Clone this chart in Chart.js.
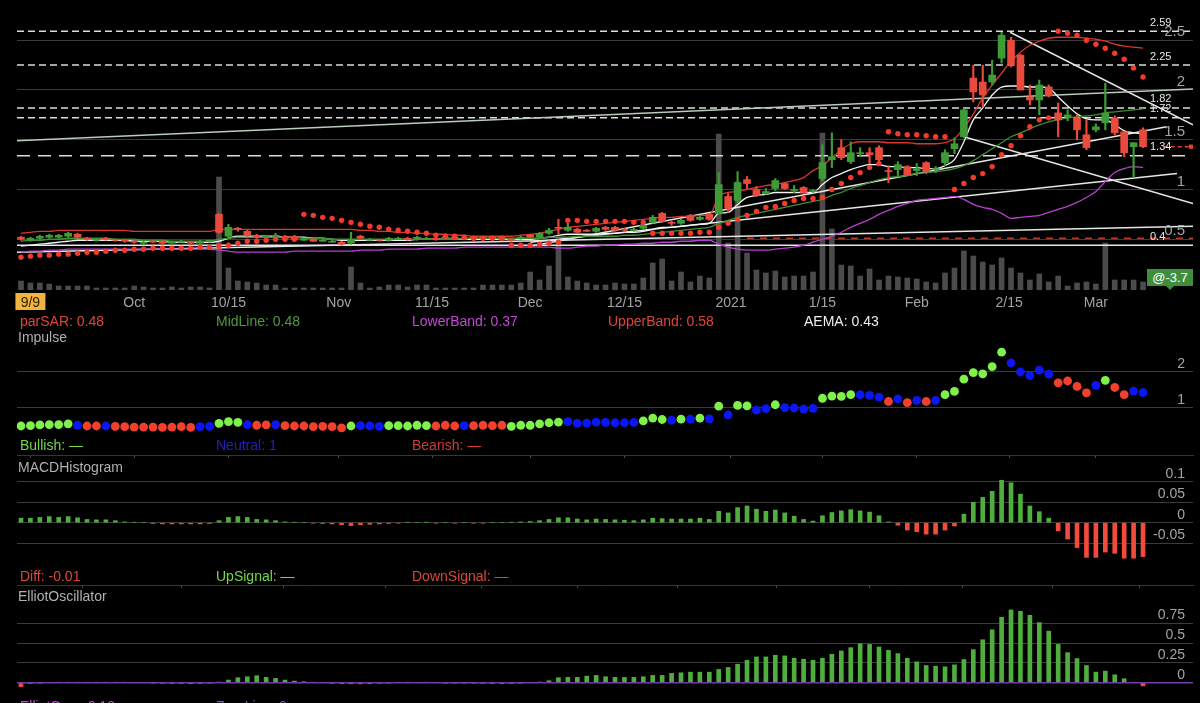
<!DOCTYPE html>
<html><head><meta charset="utf-8">
<script src="https://cdn.jsdelivr.net/npm/chart.js@4.4.1/dist/chart.umd.min.js"></script>
<style>
html,body{margin:0;padding:0;background:#000;overflow:hidden}
#wrap{position:relative;width:1200px;height:703px;background:#000;overflow:hidden;font-family:"Liberation Sans",Arial,sans-serif}
canvas{position:absolute;left:0}
.t{position:absolute;font-size:14px;line-height:16px;white-space:nowrap}
#tag{position:absolute;left:1147px;top:269px;width:46px;height:17px;background:#3e8e3e;color:#fff;font-size:13px;line-height:17px;text-align:center}
#tag:after{content:"";position:absolute;left:19px;top:17px;border-left:4px solid transparent;border-right:4px solid transparent;border-top:4px solid #3e8e3e}
</style></head><body><div id="wrap">
<canvas id="cMain" width="1200" height="315" style="top:0px"></canvas>
<canvas id="cImp" width="1200" height="118" style="top:340px"></canvas>
<canvas id="cMacd" width="1200" height="132" style="top:456px"></canvas>
<canvas id="cEll" width="1200" height="115" style="top:588px"></canvas>
<div id="tag">@-3.7</div>
<div class="t" style="left:20px;top:313px;color:#e0453a">parSAR: 0.48</div>
<div class="t" style="left:216px;top:313px;color:#4e9a3e">MidLine: 0.48</div>
<div class="t" style="left:412px;top:313px;color:#c447d6">LowerBand: 0.37</div>
<div class="t" style="left:608px;top:313px;color:#e0453a">UpperBand: 0.58</div>
<div class="t" style="left:804px;top:313px;color:#eeeeee">AEMA: 0.43</div>
<div class="t" style="left:18px;top:329px;color:#b0b0b0">Impulse</div>
<div class="t" style="left:20px;top:437px;color:#72d84a">Bullish: —</div>
<div class="t" style="left:216px;top:437px;color:#2020b8">Neutral: 1</div>
<div class="t" style="left:412px;top:437px;color:#d03c32">Bearish: —</div>
<div class="t" style="left:18px;top:459px;color:#b0b0b0">MACDHistogram</div>
<div class="t" style="left:20px;top:568px;color:#d9463b">Diff: -0.01</div>
<div class="t" style="left:216px;top:568px;color:#74d84a">UpSignal: —</div>
<div class="t" style="left:412px;top:568px;color:#d9463b">DownSignal: —</div>
<div class="t" style="left:18px;top:588px;color:#b0b0b0">ElliotOscillator</div>
<div class="t" style="left:20px;top:698px;color:#c447d6">ElliotOsc: -0.10</div>
<div class="t" style="left:216px;top:698px;color:#8a4fc0">ZeroLine: 0</div>
</div>
<script>
const FONT = '"Liberation Sans", Arial, sans-serif';
const X_MIN = -0.424, X_MAX = 124.3;

// x axis tick labels (trading-day index positions)
const xTickLabels = ['9/9','Oct','10/15','Nov','11/15','Dec','12/15','2021','1/15','Feb','2/15','Mar'];
const xTickIdx = [1.0, 12, 22, 33.7, 43.6, 54, 64, 75.3, 85, 95, 104.8, 114];

// price panel
const priceTicks = [0.5, 1, 1.5, 2, 2.5];
const priceTickLabels = ['0.5','1','1.5','2','2.5'];
const levels = [2.59, 2.25, 1.82, 1.72, 1.34];
const levelLabels = ['2.59','2.25','1.82','1.72','1.34'];
const redLevel = 0.51, redLevelLabel = '0.4', redLevelStart = 77;

const open = [
.52,.49,.51,.52,.52,.53,.55,.51,.49,.51,
.50,.49,.48,.46,.48,.48,.47,.48,.47,.46,
.48,.75,.53,.61,.58,.54,.53,.52,.53,.53,
.50,.50,.49,.48,.47,.46,.53,.50,.50,.49,
.51,.51,.50,.51,.51,.51,.52,.51,.52,.51,
.52,.50,.50,.51,.54,.52,.56,.62,.59,.60,
.59,.58,.62,.62,.60,.59,.61,.67,.76,.67,
.66,.74,.70,.75,.76,.93,.89,1.10,1.00,.96,
1.01,1.06,1.00,1.02,.99,1.11,1.30,1.42,1.28,1.36,
1.37,1.42,1.19,1.20,1.23,1.19,1.27,1.20,1.27,1.41,
1.53,2.12,2.08,2.08,2.32,2.50,2.35,1.93,1.90,2.03,
1.77,1.73,1.72,1.55,1.60,1.67,1.72,1.58,1.43,1.60];
const high = [
.53,.52,.54,.55,.55,.57,.56,.52,.51,.52,
.50,.50,.49,.48,.49,.49,.48,.49,.48,.49,
.49,.76,.65,.62,.59,.55,.54,.56,.54,.54,
.51,.51,.50,.49,.48,.57,.54,.51,.50,.52,
.52,.52,.53,.52,.52,.53,.53,.52,.53,.53,
.52,.53,.51,.53,.55,.57,.61,.70,.66,.61,
.60,.62,.63,.63,.61,.61,.65,.74,.77,.68,
.70,.75,.73,.76,1.17,.96,1.18,1.13,1.03,1.01,
1.11,1.07,1.04,1.03,1.00,1.45,1.57,1.50,1.48,1.42,
1.42,1.44,1.24,1.28,1.24,1.26,1.28,1.23,1.40,1.52,
1.81,2.25,2.25,2.30,2.58,2.53,2.36,2.05,2.10,2.05,
1.87,1.80,1.75,1.70,1.66,2.07,1.74,1.58,1.47,1.62];
const low = [
.49,.48,.50,.51,.51,.52,.51,.49,.48,.49,
.48,.47,.46,.45,.47,.45,.46,.47,.45,.45,
.47,.56,.52,.58,.53,.51,.52,.51,.51,.49,
.49,.48,.48,.47,.44,.45,.51,.49,.48,.48,
.50,.49,.49,.50,.49,.50,.50,.50,.50,.51,
.50,.49,.48,.50,.52,.51,.55,.55,.58,.56,
.58,.57,.59,.58,.58,.58,.60,.66,.67,.64,
.65,.68,.69,.69,.75,.77,.87,1.01,.93,.95,
.99,1.00,.97,.96,.97,1.09,1.22,1.30,1.26,1.33,
1.26,1.24,1.07,1.14,1.14,1.14,1.16,1.17,1.24,1.36,
1.52,1.88,1.83,2.05,2.27,2.23,2.00,1.85,1.75,1.93,
1.53,1.69,1.50,1.40,1.58,1.60,1.55,1.33,1.12,1.42];
const close = [
.50,.51,.53,.54,.54,.56,.52,.50,.50,.50,
.49,.48,.47,.47,.47,.46,.47,.48,.46,.48,
.49,.57,.62,.60,.54,.52,.53,.54,.51,.50,
.50,.48,.49,.48,.45,.50,.51,.50,.49,.51,
.51,.50,.52,.51,.50,.52,.50,.51,.51,.52,
.51,.52,.49,.52,.52,.56,.59,.61,.62,.57,
.58,.61,.60,.59,.59,.60,.64,.72,.68,.66,
.69,.69,.72,.70,1.05,.81,1.07,1.06,.94,.98,
1.09,1.01,1.00,.97,.99,1.27,1.33,1.32,1.37,1.37,
1.35,1.30,1.18,1.25,1.15,1.21,1.18,1.21,1.37,1.46,
1.80,1.98,1.95,2.15,2.55,2.25,2.00,1.90,2.05,1.94,
1.70,1.75,1.60,1.42,1.63,1.77,1.57,1.37,1.47,1.43];
const volume = [
0.9,0.7,0.7,0.6,0.4,0.4,0.4,0.4,0.2,0.2,
0.2,0.2,0.4,0.3,0.2,0.2,0.3,0.2,0.3,0.3,
0.2,11.3,2.2,0.9,0.8,0.7,0.5,0.5,0.2,0.2,
0.2,0.2,0.2,0.2,0.2,2.3,0.7,0.2,0.3,0.5,
0.5,0.3,0.5,0.5,0.2,0.2,0.2,0.2,0.2,0.5,
0.5,0.5,0.5,0.7,1.8,1.0,2.4,5.0,1.3,0.9,
0.7,0.5,0.5,0.7,0.6,0.6,1.2,2.7,3.1,0.9,
1.8,0.8,1.4,1.2,15.6,4.7,10.8,3.7,2.0,1.7,
1.9,1.3,1.4,1.4,1.8,15.7,6.1,2.5,2.4,1.4,
2.1,1.0,1.4,1.3,1.2,1.1,0.8,0.7,1.7,2.2,
3.9,3.4,2.8,2.5,3.2,2.2,1.7,1.0,1.6,0.8,
1.4,0.4,0.7,0.8,0.6,4.7,1.0,1.0,1.0,0.8];
const parSAR = [
.32,.33,.34,.34,.35,.35,.36,.37,.37,.38,
.39,.39,.40,.40,.41,.41,.41,.41,.41,.42,
.42,.43,.44,.46,.48,.48,.49,.50,.50,.50,
.75,.74,.72,.71,.69,.67,.65,.63,.62,.60,
.59,.58,.57,.56,.54,.53,.53,.52,.51,.51,
.51,.51,.44,.44,.44,.45,.46,.47,.69,.69,
.68,.68,.68,.68,.68,.67,.67,.56,.56,.56,
.56,.56,.57,.57,.62,.66,.70,.74,.78,.82,
.83,.86,.89,.91,.91,.92,1.00,1.06,1.12,1.17,
1.22,1.26,1.58,1.56,1.55,1.55,1.54,1.53,1.53,1.00,
1.06,1.12,1.16,1.23,1.35,1.44,1.54,1.63,1.70,1.72,
2.59,2.57,2.55,2.50,2.46,2.42,2.37,2.31,2.22,2.13];
const midLine = [
.48,.49,.49,.50,.50,.51,.51,.51,.51,.51,
.50,.50,.50,.49,.49,.49,.48,.48,.48,.48,
.48,.50,.51,.52,.52,.52,.52,.52,.52,.52,
.51,.51,.51,.50,.50,.50,.50,.50,.50,.50,
.50,.50,.50,.50,.50,.50,.50,.51,.51,.51,
.51,.51,.51,.51,.51,.51,.52,.52,.52,.53,
.53,.53,.53,.53,.54,.54,.55,.56,.57,.58,
.59,.60,.61,.62,.66,.69,.72,.74,.76,.78,
.80,.82,.84,.86,.88,.90,.94,.97,1.01,1.04,
1.07,1.10,1.12,1.13,1.14,1.16,1.17,1.18,1.19,1.21,
1.24,1.29,1.35,1.41,1.47,1.53,1.57,1.61,1.65,1.68,
1.70,1.72,1.73,1.74,1.75,1.77,1.78,1.79,1.80,1.81];
const aema = [
.43,.44,.45,.46,.47,.48,.49,.49,.49,.49,
.49,.49,.48,.48,.48,.48,.47,.47,.47,.47,
.47,.48,.51,.53,.53,.53,.53,.53,.52,.52,
.52,.51,.51,.50,.49,.49,.49,.49,.49,.49,
.49,.49,.50,.50,.50,.50,.50,.50,.50,.50,
.50,.50,.50,.50,.50,.51,.52,.54,.55,.55,
.55,.55,.56,.56,.57,.57,.58,.60,.62,.62,
.63,.64,.65,.66,.76,.77,.85,.92,.94,.95,
.97,.97,.97,.97,.97,1.05,1.12,1.16,1.20,1.23,
1.25,1.25,1.23,1.23,1.22,1.22,1.21,1.21,1.24,1.30,
1.48,1.70,1.82,1.95,2.03,2.04,2.04,2.03,2.03,2.02,
1.93,1.84,1.76,1.71,1.70,1.70,1.65,1.59,1.57,1.56];
const upperBand = [
.56,.57,.58,.58,.59,.59,.59,.59,.59,.59,
.59,.59,.58,.58,.58,.58,.58,.58,.58,.58,
.58,.60,.60,.60,.60,.60,.60,.60,.60,.60,
.60,.60,.60,.60,.60,.60,.59,.59,.58,.58,
.57,.57,.56,.56,.55,.55,.54,.54,.53,.53,
.53,.53,.53,.54,.55,.56,.58,.60,.62,.63,
.64,.65,.66,.67,.68,.69,.70,.71,.72,.72,
.73,.73,.74,.74,.93,.97,.98,1.00,1.02,1.04,
1.05,1.07,1.09,1.12,1.19,1.24,1.32,1.40,1.46,1.48,
1.48,1.48,1.47,1.47,1.47,1.46,1.46,1.46,1.47,1.51,
1.62,1.76,1.92,2.05,2.17,2.29,2.38,2.45,2.49,2.52,
2.53,2.53,2.53,2.52,2.51,2.49,2.46,2.44,2.43,2.42];
const lowerBand = [
.37,.38,.38,.39,.39,.40,.40,.40,.40,.40,
.40,.40,.40,.40,.40,.40,.40,.40,.40,.40,
.40,.39,.38,.37,.37,.37,.37,.37,.37,.38,
.38,.38,.38,.38,.38,.38,.39,.39,.39,.40,
.40,.40,.40,.41,.41,.41,.41,.42,.42,.42,
.42,.42,.42,.42,.42,.42,.42,.41,.41,.42,
.43,.43,.44,.44,.45,.45,.46,.46,.47,.47,
.48,.48,.49,.49,.45,.42,.40,.39,.39,.39,
.40,.41,.42,.44,.47,.50,.53,.57,.62,.66,
.70,.75,.79,.83,.86,.89,.90,.91,.92,.93,
.90,.85,.82,.80,.76,.71,.72,.73,.74,.77,
.80,.83,.87,.92,.98,1.08,1.17,1.21,1.23,1.22];
// trend lines: [startIdx, startPrice, endIdx, endPrice]
const trendGreen = [-0.424, 1.49, 124.3, 2.01];
const trendLines = [
  [104.9, 2.58, 124.3, 1.65],
  [100, 1.53, 124.3, 0.86],
  [54, 0.43, 121.5, 1.63],
  [54, 0.47, 122.6, 1.16],
  [-0.424, 0.37, 124.3, 0.63],
  [-0.424, 0.44, 124.3, 0.44]
];

// impulse colours (g bullish, b neutral, r bearish)
const impulse = ('gggggg'+'b'+'rr'+'b'+'rrrrrrrrr'+'bb'+'ggg'+'b'+'rr'+'b'+'rrrrrrr'+'g'+'bbb'+'ggggg'+'rrr'+'b'+'rrrr'+
  'gggggg'+'bbbbbbbb'+'ggg'+'b'+'g'+'b'+'g'+'b'+'g'+'b'+'gg'+'bb'+'g'+'bbbb'+'gggg'+'bbb'+'r'+'b'+'r'+'b'+'r'+'b'+
  'ggggggg'+'bbbbb'+'rrrr'+'b'+'g'+'rr'+'bb').split('');
const impTicks = [1, 2], impTickLabels = ['1','2'];

const macd = [
0.011,0.011,0.013,0.015,0.013,0.015,0.012,0.008,0.007,0.007,
0.005,0.002,0.001,0,-0.002,-0.003,-0.003,-0.003,-0.003,-0.003,
-0.002,0.005,0.013,0.015,0.013,0.008,0.007,0.005,0.002,0.001,
0,-0.001,-0.002,-0.003,-0.005,-0.007,-0.005,-0.004,-0.003,-0.002,
-0.001,0.001,0,0.001,-0.001,0,-0.001,0,-0.001,-0.001,
0,0,0.001,0.002,0.003,0.005,0.008,0.012,0.012,0.009,
0.007,0.009,0.008,0.007,0.006,0.005,0.007,0.011,0.010,0.009,
0.009,0.009,0.011,0.008,0.028,0.024,0.037,0.041,0.033,0.028,
0.031,0.024,0.016,0.008,0.004,0.017,0.025,0.029,0.032,0.029,
0.026,0.017,0.002,-0.006,-0.018,-0.022,-0.028,-0.028,-0.018,-0.008,
0.021,0.050,0.062,0.077,0.104,0.098,0.070,0.041,0.027,0.011,
-0.020,-0.040,-0.061,-0.085,-0.085,-0.072,-0.075,-0.087,-0.087,-0.083];
const macdTicks = [0.1, 0.05, 0, -0.05], macdTickLabels = ['0.1','0.05','0','-0.05'];

const elliot = [
-0.05,-0.01,-0.005,0,0.003,0.005,0.005,0.005,0.005,0.004,
0.003,0.002,0,0,-0.005,-0.008,-0.01,-0.01,-0.012,-0.01,
-0.005,0.008,0.033,0.063,0.075,0.088,0.067,0.054,0.033,0.02,
0.012,0.004,0,-0.008,-0.012,-0.015,-0.015,-0.012,-0.008,-0.004,
0.002,0.001,0,0.001,0,-0.002,-0.003,-0.005,-0.006,-0.008,
-0.01,-0.012,-0.01,-0.005,0,0.008,0.025,0.063,0.067,0.067,
0.083,0.092,0.075,0.067,0.067,0.067,0.075,0.092,0.092,0.117,
0.125,0.133,0.133,0.133,0.167,0.192,0.233,0.283,0.325,0.325,
0.346,0.338,0.308,0.296,0.283,0.308,0.358,0.4,0.442,0.492,
0.483,0.45,0.408,0.367,0.308,0.263,0.217,0.208,0.2,0.225,
0.292,0.417,0.542,0.667,0.825,0.917,0.9,0.85,0.758,0.65,
0.483,0.379,0.304,0.217,0.133,0.146,0.1,0.05,0.004,-0.04];
const zeroLine = 0;
const ellTicks = [0.75, 0.5, 0.25, 0], ellTickLabels = ['0.75','0.5','0.25','0'];

// ---------- styling / helpers ----------
const GREEN = '#3e9b36', RED = '#ea4a3c', GRID = '#3b3b3b';
const IMP_COL = {g:'#7ef24a', b:'#0b16f2', r:'#f2402d'};
const pts = arr => arr.map((v, i) => ({x: i, y: v}));
const seg = (x0, y0, x1, y1) => [{x: x0, y: y0}, {x: x1, y: y1}];
const candleCol = close.map((c, i) => c >= open[i] ? GREEN : RED);

function rightLabels(values, labels, size) {
  return { id: 'rl', afterDatasetsDraw(chart) {
    const {ctx, chartArea} = chart, ys = chart.scales.y;
    ctx.save(); ctx.font = size + 'px ' + FONT; ctx.fillStyle = '#a3a3a3';
    ctx.textAlign = 'right'; ctx.textBaseline = 'middle';
    values.forEach((v, k) => ctx.fillText(labels[k], chartArea.right - 8, ys.getPixelForValue(v) - 8));
    ctx.restore();
  }};
}
const levelLabelPlugin = { id: 'lv', afterDatasetsDraw(chart) {
  const {ctx, chartArea} = chart, ys = chart.scales.y;
  ctx.save(); ctx.font = '11px ' + FONT; ctx.fillStyle = '#e8e8e8';
  ctx.textAlign = 'left'; ctx.textBaseline = 'middle';
  levels.forEach((v, k) => ctx.fillText(levelLabels[k], chartArea.right - 43, ys.getPixelForValue(v) - 8.5));
  ctx.fillText(redLevelLabel, chartArea.right - 43, ys.getPixelForValue(redLevel) - 1);
  ctx.restore();
}};
const dateBox = { id: 'db', beforeDraw(chart) {
  const xs = chart.scales.x, ctx = chart.ctx;
  const px = xs.getPixelForValue(xTickIdx[0]);
  ctx.save(); ctx.fillStyle = '#f2b440'; ctx.fillRect(px - 15, 293, 30, 17); ctx.restore();
}};

function xAxis(extra) {
  return Object.assign({
    type: 'linear', min: X_MIN, max: X_MAX, offset: false,
    afterBuildTicks: s => { s.ticks = xTickIdx.map(v => ({value: v})); }
  }, extra);
}
function yAxis(min, max, ticks) {
  return {
    type: 'linear', position: 'right', min, max,
    afterBuildTicks: s => { s.ticks = ticks.map(v => ({value: v})); },
    afterFit: s => { s.width = 0; },
    grid: {color: GRID, drawTicks: false, lineWidth: 1},
    border: {display: false},
    ticks: {display: false}
  };
}
const sepAxis = () => xAxis({
  position: 'bottom', afterFit: s => { s.height = 3; },
  grid: {drawOnChartArea: false, drawTicks: true, tickLength: 3, color: '#4a4a4a'},
  border: {display: true, color: '#353535'},
  ticks: {display: false}
});
const base = {
  animation: false, responsive: false, events: [],
  layout: {autoPadding: false, padding: {left: 17, right: 7, top: 0, bottom: 0}},
  plugins: {legend: {display: false}, tooltip: {enabled: false}}
};

// ---------- main price chart ----------
const mainSets = [];
mainSets.push({type: 'bar', label: 'Volume', yAxisID: 'yv', data: pts(volume), backgroundColor: '#4b4b4b',
  barThickness: 5, grouped: false, order: 20});
levels.forEach((v, k) => mainSets.push({type: 'line', data: seg(X_MIN, v, X_MAX, v), borderColor: '#dcdcdc',
  borderWidth: 1.5, borderDash: k === levels.length - 1 ? [13, 8] : [7, 4], pointRadius: 0, order: 15}));
mainSets.push({type: 'line', data: seg(redLevelStart, redLevel, X_MAX, redLevel), borderColor: '#b8382c',
  borderWidth: 1.5, borderDash: [7, 6], pointRadius: 0, order: 15});
mainSets.push({type: 'line', data: seg(...trendGreen), borderColor: '#b9cbb9', borderWidth: 1.5, pointRadius: 0, order: 14});
trendLines.forEach(t => mainSets.push({type: 'line', data: seg(...t), borderColor: '#e6e6e6',
  borderWidth: 1.5, pointRadius: 0, order: 14}));
[[upperBand, '#d9372b'], [midLine, '#3d8f2f'], [lowerBand, '#b93fcf'], [aema, '#f2f2f2']].forEach(([arr, col]) =>
  mainSets.push({type: 'line', data: pts(arr), borderColor: col, borderWidth: 1.3, pointRadius: 0,
    cubicInterpolationMode: 'monotone', order: 10}));
mainSets.push({type: 'bar', label: 'Wick', data: close.map((c, i) => ({x: i, y: [low[i], high[i]]})),
  backgroundColor: candleCol, barThickness: 1.5, grouped: false, order: 5});
mainSets.push({type: 'bar', label: 'Body', data: close.map((c, i) => ({x: i, y: [open[i], c]})),
  backgroundColor: candleCol, barThickness: 7, minBarLength: 1, grouped: false, order: 4});
mainSets.push({type: 'line', label: 'parSAR', data: pts(parSAR), showLine: false, pointRadius: 2.7,
  pointBackgroundColor: '#f23a2b', pointBorderWidth: 0, order: 1});
mainSets.push({type: 'line', data: seg(121.2, close[119], X_MAX - 0.2, close[119]), borderColor: '#e8402f',
  borderWidth: 1.5, borderDash: [4, 3], pointRadius: [0, 3], pointStyle: 'rect',
  pointBackgroundColor: '#e8402f', pointBorderWidth: 0, order: 1});

new Chart(document.getElementById('cMain'), {
  type: 'bar',
  data: {datasets: mainSets},
  options: Object.assign({}, base, {
    scales: {
      x: xAxis({position: 'bottom', afterFit: s => { s.height = 25; },
        grid: {display: false, drawTicks: false}, border: {display: false},
        ticks: {autoSkip: false, maxRotation: 0, padding: 5, font: {size: 14, family: FONT},
          color: ctx => ctx.index === 0 ? '#2b1d00' : '#a3a3a3',
          callback: (v, i) => xTickLabels[i]}}),
      y: yAxis(-0.01005, 2.9045, priceTicks),
      yv: {type: 'linear', display: false, min: 0, max: 29}
    }
  }),
  plugins: [dateBox, rightLabels(priceTicks, priceTickLabels, 15), levelLabelPlugin]
});

// ---------- impulse ----------
new Chart(document.getElementById('cImp'), {
  type: 'line',
  data: {datasets: [{data: pts(close), showLine: false, pointRadius: 4.4, pointBorderWidth: 0,
    pointBackgroundColor: impulse.map(k => IMP_COL[k])}]},
  options: Object.assign({}, base, {
    scales: {x: sepAxis(), y: yAxis(-0.306, 2.889, impTicks)}
  }),
  plugins: [rightLabels(impTicks, impTickLabels, 14)]
});

// ---------- MACD histogram ----------
new Chart(document.getElementById('cMacd'), {
  type: 'bar',
  data: {datasets: [{data: pts(macd), backgroundColor: macd.map(v => v >= 0 ? '#4fae3d' : '#f24a3b'),
    barThickness: 4, grouped: false}]},
  options: Object.assign({}, base, {
    scales: {x: sepAxis(), y: yAxis(-0.1527, 0.1635, macdTicks)}
  }),
  plugins: [rightLabels(macdTicks, macdTickLabels, 14)]
});

// ---------- Elliot oscillator ----------
new Chart(document.getElementById('cEll'), {
  type: 'bar',
  data: {datasets: [
    {type: 'line', data: seg(X_MIN, zeroLine, X_MAX, zeroLine), borderColor: '#6f3fa6', borderWidth: 1.5, pointRadius: 0, order: 0},
    {data: pts(elliot), backgroundColor: elliot.map(v => v >= 0 ? '#4fae3d' : '#f24a3b'),
      barThickness: 4, grouped: false, order: 1}]},
  options: Object.assign({}, base, {
    scales: {x: xAxis({display: false}), y: yAxis(-0.256, 1.194, ellTicks)}
  }),
  plugins: [rightLabels(ellTicks, ellTickLabels, 14)]
});
</script>
</body></html>
